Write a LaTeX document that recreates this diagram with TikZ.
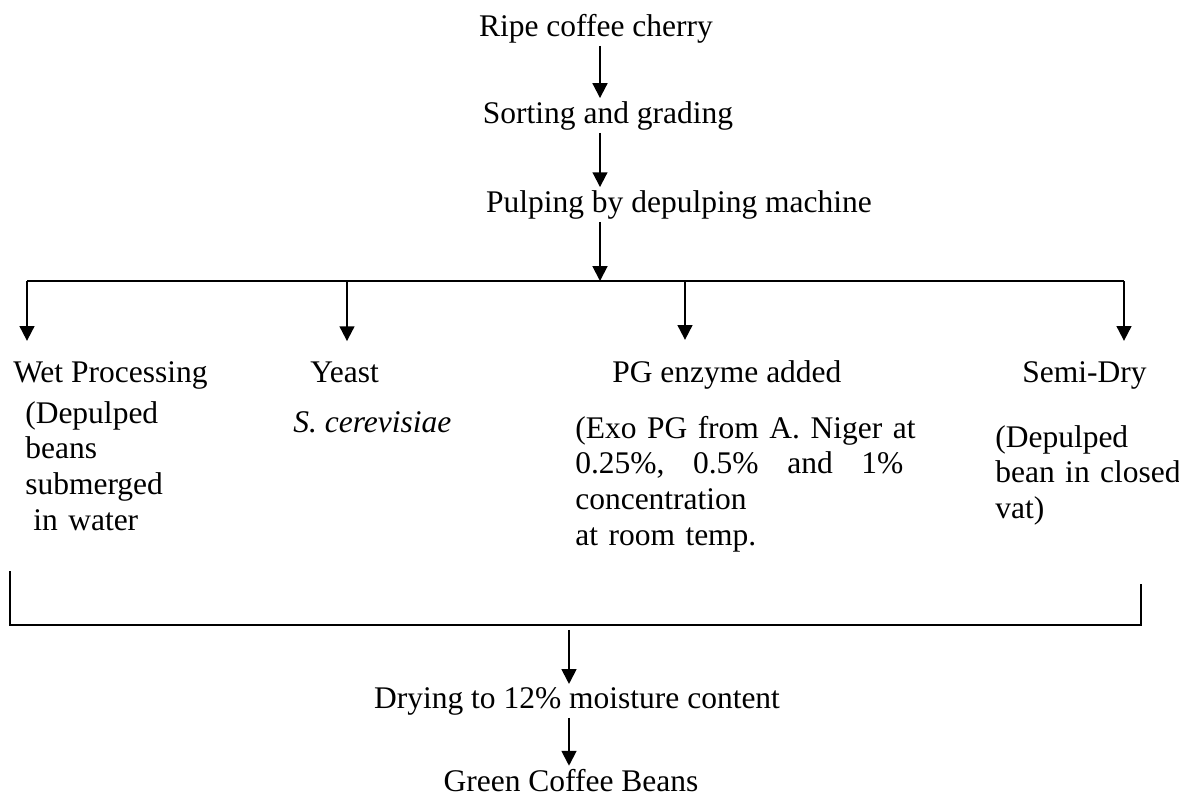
\documentclass[tikz,border=0pt]{standalone}
\usepackage{fontspec}
\setmainfont{Liberation Serif}
\usetikzlibrary{arrows.meta}
\frenchspacing

\begin{document}
\begin{tikzpicture}[x=0.025cm,y=-0.025cm]
\tikzstyle{flow} = [-{Triangle[width=0.37cm,length=0.37cm]}, line width=1.4pt]
\tikzstyle{stage} = [inner sep=2pt, anchor=base, font=\fontsize{22.4}{25.5}\selectfont]
\tikzstyle{branch} = [stage, anchor=base west, inner xsep=0pt, inner ysep=0.5cm]
\tikzstyle{note} = [stage, anchor=base west, inner sep=0pt, align=left]
\useasboundingbox (0,0) rectangle (1179,796);
% main line
\node[stage] (ripe) at (596,36) {Ripe coffee cherry};
\node[stage] (sort) at (608,123) {Sorting and grading};
\node[stage] (pulp) at (679,212) {Pulping by depulping machine};
\coordinate (c1) at (600,0);
\draw[flow] (ripe.south -| c1) -- (sort.north -| c1);
\draw[flow] (sort.south -| c1) -- (pulp.north -| c1);
% split
\coordinate (b1) at (27,281);
\coordinate (b2) at (347,281);
\coordinate (b3) at (685,281);
\coordinate (b4) at (1124,281);
\draw[line width=0.9pt] (b1) -- (b4);
\draw[flow] (pulp.south -| c1) -- (c1 |- b1);
\node[branch] (wet) at (13,382) {Wet Processing};
\node[branch] (yeast) at (310,382) {Yeast};
\node[branch] (pg) at (612,382) {PG enzyme added};
\node[branch] (semi) at (1022,382) {Semi-Dry};
\draw[flow] (b1) -- (b1 |- wet.north);
\draw[flow] (b2) -- (b2 |- yeast.north);
\draw[flow] (b3) -- (b3 |- pg.north);
\draw[flow] (b4) -- (b4 |- semi.north);
\node[note, text width=5cm] (wetnote) at (25,423) {(Depulped\\beans\\submerged\\\hspace*{0.2cm}in water};
\node[note] (yeastnote) at (293,432) {\textit{S. cerevisiae}};
\node[note, text width=9cm] (pgnote) at (575,438) {(Exo PG from A. Niger at\\\makebox[8.2cm][s]{0.25\%,\hfill 0.5\%\hfill and\hfill 1\%}\\concentration\\at room temp.};
\node[note, text width=5.5cm] (seminote) at (995,447) {(Depulped\\bean in closed\\vat)};
% join
\coordinate (k1) at (10,571);
\coordinate (k2) at (10,625);
\coordinate (k3) at (1141,625);
\coordinate (k4) at (1141,584);
\draw[line width=1pt] (k1) -- (k2) -- (k3) -- (k4);
\coordinate (c2) at (569,0);
\node[stage] (dry) at (577,708) {Drying to 12\% moisture content};
\node[stage] (green) at (571,791) {Green Coffee Beans};
\draw[flow, shorten <=0.12cm] (c2 |- k2) -- (dry.north -| c2);
\draw[flow] (dry.south -| c2) -- (green.north -| c2);
\end{tikzpicture}
\end{document}
